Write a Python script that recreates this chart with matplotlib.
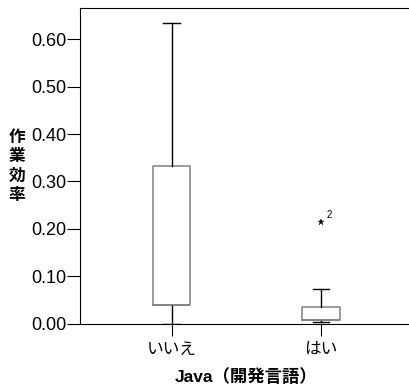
import matplotlib
matplotlib.use('Agg')
import matplotlib.pyplot as plt

plt.rcParams['font.family'] = ['Liberation Sans', 'Noto Sans CJK JP', 'DejaVu Sans']

# box statistics
categories = ['いいえ', 'はい']
q1 = [0.040, 0.008]
med = [0.040, 0.008]
q3 = [0.333, 0.036]
whislo = [0.000, 0.003]
whishi = [0.635, 0.074]
fliers = [[], [0.214]]
flier_labels = [[], ['2']]
yticks = [0.0, 0.1, 0.2, 0.3, 0.4, 0.5, 0.6]

stats = []
for i in range(len(categories)):
    stats.append(dict(med=med[i], q1=q1[i], q3=q3[i], whislo=whislo[i],
                      whishi=whishi[i], fliers=fliers[i], label=categories[i]))

fig = plt.figure(figsize=(4.09, 3.91), dpi=100)
ax = fig.add_axes([80/409, 67.3/391, 332/409, 315.7/391])

box_c = '#808080'
ax.bxp(stats, positions=[1, 2], widths=0.252, showfliers=False,
       boxprops=dict(color=box_c, lw=1.1),
       medianprops=dict(color=box_c, lw=1.1),
       whiskerprops=dict(color='black', lw=1.0),
       capprops=dict(color='black', lw=1.0), capwidths=0.11)

for i, fl in enumerate(fliers):
    for v, lab in zip(fl, flier_labels[i]):
        ax.plot(i + 1, v, marker='*', color='black', ms=5, mew=0.3, ls='none')
        ax.annotate(lab, (i + 1, v), xytext=(4, 3), textcoords='offset points',
                    fontsize=7)

ax.set_xlim(0.387, 2.611)
ax.set_ylim(0, 0.666)
ax.set_yticks(yticks)
ax.set_yticklabels([f'{t:.2f}' for t in yticks], fontsize=13)
ax.set_xticks([1, 2])
ax.set_xticklabels(categories, fontsize=12, family=['Noto Sans CJK JP'])
ax.tick_params(axis='y', length=9.4, width=0.8, pad=0.5)
ax.tick_params(axis='x', length=8.6, width=0.8, pad=4)
for s in ax.spines.values():
    s.set_linewidth(0.8)
ax.spines['right'].set_visible(False)

ax.set_xlabel('Java（開発言語）', fontsize=12.5, fontweight='bold', labelpad=7)
fig.text(17/409, 1 - 166/391, '作\n業\n効\n率', fontsize=12, fontweight='bold',
         ha='center', va='center', linespacing=1.09,
         family=['Noto Sans CJK JP'])

fig.savefig('out.png', dpi=100)
